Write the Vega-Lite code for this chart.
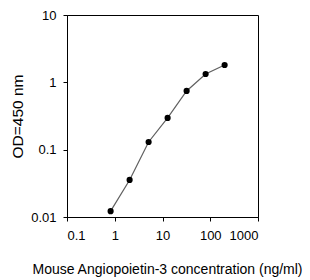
{
  "$schema": "https://vega.github.io/schema/vega-lite/v6.json",
  "width": 191,
  "height": 202,
  "autosize": "none",
  "padding": {"left": 67, "top": 15, "right": 52, "bottom": 63},
  "background": "white",
  "config": {
    "view": {"stroke": "black", "strokeWidth": 1},
    "font": "Liberation Sans",
    "axis": {"grid": false, "domainColor": "black", "tickColor": "black", "labelColor": "black", "titleColor": "black", "labelFont": "Liberation Sans", "titleFont": "Liberation Sans", "labelFontSize": 13, "titleFontWeight": "normal", "tickSize": 4}
  },
  "data": {
    "values": [
      {"conc": 0.8192, "od": 0.0122},
      {"conc": 2.048, "od": 0.0355},
      {"conc": 5.12, "od": 0.13},
      {"conc": 12.8, "od": 0.296},
      {"conc": 32, "od": 0.745},
      {"conc": 80, "od": 1.33},
      {"conc": 200, "od": 1.81}
    ]
  },
  "encoding": {
    "x": {"field": "conc", "type": "quantitative", "scale": {"type": "log", "domain": [0.1, 1000], "nice": false},
      "axis": {"values": [0.1, 1, 10, 100, 1000], "format": "~g", "title": "Mouse Angiopoietin-3 concentration (ng/ml)", "titleFontSize": 14, "titleX": 100, "labelPadding": 8, "titlePadding": 20}},
    "y": {"field": "od", "type": "quantitative", "scale": {"type": "log", "domain": [0.01, 10], "nice": false},
      "axis": {"values": [0.01, 0.1, 1, 10], "format": "~g", "title": "OD=450 nm", "titleFontSize": 15.5, "labelPadding": 7, "titlePadding": 5}}
  },
  "layer": [
    {"mark": {"type": "line", "color": "#606060", "strokeWidth": 1.2}},
    {"mark": {"type": "point", "filled": true, "color": "black", "opacity": 1, "size": 38}}
  ]
}
